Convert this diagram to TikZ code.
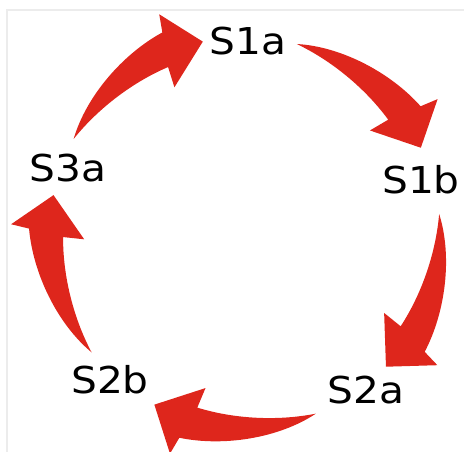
\documentclass[tikz,border=0pt]{standalone}
\usepackage{fontspec}
\newfontfamily\labelfont[FakeStretch=1.1]{DejaVu Sans}
\definecolor{arrowred}{RGB}{222,38,28}
\definecolor{framegray}{RGB}{236,236,236}

% curved tapered arrow around the centre, #1 = angle of its tail
\newcommand{\cyclearrow}[1]{%
  \fill[arrowred] (#1:195) .. controls ({#1-12}:209) and ({#1-27}:216) .. ({#1-39}:216)
    -- ({#1-40}:234) -- ({#1-49}:195) -- ({#1-35.5}:161) -- ({#1-36.5}:182)
    .. controls ({#1-25}:187) and ({#1-12}:192) .. cycle;}

\begin{document}
\begin{tikzpicture}[x=1pt,y=1pt,
    lbl/.style = {font=\labelfont\fontsize{37}{40}\selectfont, inner sep=0pt}]
  \useasboundingbox (0,0) rectangle (464,452);
  \draw[framegray, line width=2pt] (7,0) -- (7,442) -- (464,442);
  \coordinate (c) at (245,220);
    %
  \node[lbl] (s1a) at (248,411) {S1a};
  \node[lbl] (s1b) at (421,272) {S1b};
  \node[lbl] (s2a) at (366,62) {S2a};
  \node[lbl] (s2b) at (110,72) {S2b};
  \node[lbl] (s3a) at (68,284) {S3a};
    %
  \begin{scope}[shift={(c)}]
    \cyclearrow{151.5} % s3a -> s1a
    \cyclearrow{74.6}  % s1a -> s1b
    \cyclearrow{5.3}   % s1b -> s2a
    \cyclearrow{-68.7} % s2a -> s2b
    \cyclearrow{-141.9} % s2b -> s3a
  \end{scope}
\end{tikzpicture}
\end{document}
